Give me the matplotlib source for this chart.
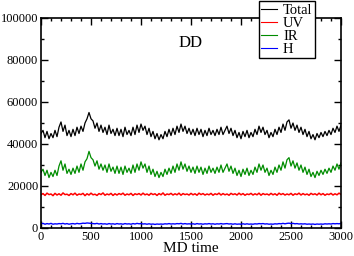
import numpy as np
import matplotlib
matplotlib.use("Agg")
import matplotlib.pyplot as plt
from matplotlib.ticker import MultipleLocator

plt.rcParams['font.family'] = ['Liberation Serif', 'DejaVu Serif']

# IR component (x1000), sampled every 20 time units, 0..3000
ir_k = [26.5, 28, 25, 27.5, 24, 26.5, 24.5, 27.5, 25, 29.5,
        32, 27.5, 30.5, 26, 28, 25.5, 28.5, 26, 29.5, 26.5,
        30.5, 27.5, 31.5, 33, 36.5, 33.5, 32.5, 29.5, 32, 28,
        30.5, 27.5, 30, 26.5, 30.5, 27, 29, 26, 29.5, 26,
        29, 25.5, 29.5, 26.5, 28.5, 26, 30, 26.5, 30.5, 27.5,
        31.5, 28.5, 30.5, 26.5, 29.5, 25.5, 28, 24.5, 27, 24,
        26.5, 24.5, 28, 25.5, 28.5, 26, 29.5, 26.5, 30.5, 27.5,
        31.5, 28, 30.5, 27, 29.5, 26.5, 29, 26, 29.5, 26.5,
        29, 25.5, 28.5, 26, 29.5, 26.5, 28.5, 26, 29, 26.5,
        30, 26.5, 28.5, 30.5, 27, 29.5, 26, 28.5, 25, 27.5,
        24.5, 28, 25.5, 28.5, 25, 27.5, 25.5, 29, 26.5, 30.5,
        27.5, 30, 26.5, 28.5, 25, 27.5, 25.5, 29, 26.5, 30,
        27.5, 31.5, 28.5, 32.5, 33.5, 29.5, 32, 28.5, 31, 27.5,
        30, 26.5, 29, 25.5, 28, 24.5, 26.5, 24, 27, 25,
        27.5, 25.5, 28, 26, 28.5, 26.5, 29.5, 27.5, 30.5, 28, 31]

# Total (x1000), same sampling
total_k = [45, 46.5, 43, 46, 42.5, 45, 43, 46.5, 43.5, 48,
           50.5, 46, 49, 44, 46.5, 43.5, 47, 44, 48, 45,
           48.5, 46, 50, 52, 55, 52, 51, 47.5, 50, 46,
           49, 45.5, 48, 44.5, 49, 45, 47, 44, 47.5, 44,
           47, 43.5, 48, 44.5, 46.5, 44, 48, 44.5, 49, 45.5,
           49.5, 46.5, 48.5, 44.5, 47.5, 43.5, 46, 42.5, 45, 42,
           44.5, 42.5, 46, 43.5, 47, 44, 47.5, 44.5, 48.5, 45.5,
           49.5, 46, 48.5, 45, 47.5, 44.5, 47, 44, 47.5, 44.5,
           47, 43.5, 46.5, 44, 47.5, 44.5, 46.5, 44, 47, 44.5,
           48, 44.5, 46.5, 48.5, 45, 47.5, 44, 46.5, 43, 45.5,
           42.5, 46, 43.5, 46.5, 43, 45.5, 43.5, 47, 44.5, 48.5,
           45.5, 48, 44.5, 46.5, 43, 45.5, 43.5, 47, 44.5, 48,
           45.5, 49.5, 46.5, 50.5, 51.5, 47.5, 50, 46.5, 49, 45.5,
           48, 44.5, 47, 43.5, 46, 42.5, 44.5, 42, 45, 43,
           45.5, 43.5, 46, 44, 46.5, 44.5, 47.5, 45.5, 48.5, 46, 49]

# UV component (x1000)
uv_k = [15.8, 16.4, 15.5, 16.6, 15.9, 16.2, 15.4, 16.5, 15.7, 16.3,
        15.6, 16.7, 15.9, 16.1, 15.5, 16.4, 15.8, 16.6, 15.6, 16.2,
        15.9, 16.5, 15.4, 16.3, 15.7, 16.6, 15.8, 16.1, 15.5, 16.4,
        15.9, 16.7, 15.6, 16.2, 15.8, 16.5, 15.5, 16.3, 15.7, 16.4,
        15.9, 16.6, 15.6, 16.2, 15.8, 16.5, 15.5, 16.3, 15.9, 16.4,
        15.7, 16.6, 15.8, 16.2, 15.6, 16.5, 15.9, 16.3, 15.5, 16.4,
        15.8, 16.7, 15.6, 16.2, 15.9, 16.5, 15.7, 16.3, 15.8, 16.6,
        15.6, 16.4, 15.9, 16.2, 15.7, 16.5, 15.8, 16.3, 15.6, 16.6,
        15.9, 16.4, 15.7, 16.2, 15.8, 16.5, 15.6, 16.3, 15.9, 16.6,
        15.7, 16.4, 15.8, 16.2, 15.6, 16.5, 15.9, 16.3, 15.7, 16.6,
        15.8, 16.4, 15.6, 16.2, 15.9, 16.5, 15.7, 16.3, 15.8, 16.6,
        15.6, 16.4, 15.9, 16.2, 15.7, 16.5, 15.8, 16.3, 15.6, 16.6,
        15.9, 16.4, 15.7, 16.2, 15.8, 16.5, 15.6, 16.3, 15.9, 16.6,
        15.7, 16.4, 15.8, 16.2, 15.6, 16.5, 15.9, 16.3, 15.7, 16.6,
        15.8, 16.4, 15.6, 16.2, 15.9, 16.5, 15.7, 16.3, 15.8, 16.6, 16.0]

# H component (x1000)
h_k = [2.0, 2.2, 1.8, 2.1, 1.9, 2.2, 1.8, 2.0, 1.9, 2.1,
       2.0, 2.2, 1.9, 2.1, 1.8, 2.0, 2.1, 1.9, 2.2, 2.0,
       2.1, 2.3, 2.2, 2.4, 2.3, 2.2, 2.1, 2.0, 2.2, 1.9,
       2.1, 1.9, 2.0, 1.8, 2.1, 1.9, 2.0, 1.8, 2.1, 1.9,
       2.0, 1.8, 2.1, 1.9, 2.0, 1.8, 2.1, 1.9, 2.2, 2.0,
       2.1, 1.9, 2.0, 1.8, 2.0, 1.8, 1.9, 1.7, 1.9, 1.8,
       1.9, 1.8, 2.0, 1.9, 2.1, 1.9, 2.0, 1.9, 2.1, 2.0,
       2.2, 1.9, 2.1, 1.9, 2.0, 1.9, 2.0, 1.8, 2.1, 1.9,
       2.0, 1.8, 2.0, 1.9, 2.1, 1.9, 2.0, 1.8, 2.0, 1.9,
       2.1, 1.9, 2.0, 2.1, 1.9, 2.0, 1.8, 2.0, 1.8, 1.9,
       1.8, 2.0, 1.8, 2.0, 1.8, 1.9, 1.8, 2.0, 1.9, 2.1,
       2.0, 2.1, 1.9, 2.0, 1.8, 1.9, 1.8, 2.0, 1.9, 2.1,
       2.0, 2.2, 2.0, 2.2, 2.3, 2.1, 2.2, 2.0, 2.1, 1.9,
       2.0, 1.9, 2.0, 1.8, 1.9, 1.8, 1.9, 1.7, 1.9, 1.8,
       1.9, 1.8, 2.0, 1.9, 2.0, 1.9, 2.1, 2.0, 2.1, 2.0, 2.2]

labels = ["Total", "UV", "IR", "H"]
colors = ["black", "#ff0000", "#008c00", "#0000ff"]

def times(vals):
    return np.linspace(0, 3000, len(vals))

fig = plt.figure(figsize=(3.54, 2.56), dpi=100)
ax = fig.add_axes([41/354, 28/256, 300/354, 210/256])

series = [total_k, uv_k, ir_k, h_k]
widths = [0.9, 1.1, 0.9, 1.0]
handles = []
for vals, lab, col, lw in zip(series, labels, colors, widths):
    v = np.array(vals) * 1000
    h, = ax.plot(times(vals), v, color=col, lw=lw, label=lab)
    handles.append(h)

ax.set_xlim(0, 3000)
ax.set_ylim(0, 100000)
ax.xaxis.set_major_locator(MultipleLocator(500))
ax.xaxis.set_minor_locator(MultipleLocator(100))
ax.yaxis.set_major_locator(MultipleLocator(20000))
ax.yaxis.set_minor_locator(MultipleLocator(10000))
ax.tick_params(which='both', direction='in', top=True, right=True, labelsize=9, pad=2)
ax.tick_params(which='major', length=5, width=1)
ax.tick_params(which='minor', length=2.5, width=1)
for s in ax.spines.values():
    s.set_linewidth(1.2)

ax.set_xlabel("MD time", fontsize=11, labelpad=-0.5)
ax.text(1500, 88000, "DD", fontsize=12, ha='center', va='center')

leg = fig.legend(handles=handles, loc='upper left', bbox_to_anchor=(259/354, 0.995),
                 fontsize=10.5, handlelength=1.1, handletextpad=0.4, labelspacing=0.0,
                 borderpad=0.15, fancybox=False, framealpha=1, edgecolor='black',
                 borderaxespad=0)
leg.get_frame().set_linewidth(1.0)
for line in leg.get_lines():
    line.set_linewidth(0.8)

fig.savefig("out.png", dpi=100)
